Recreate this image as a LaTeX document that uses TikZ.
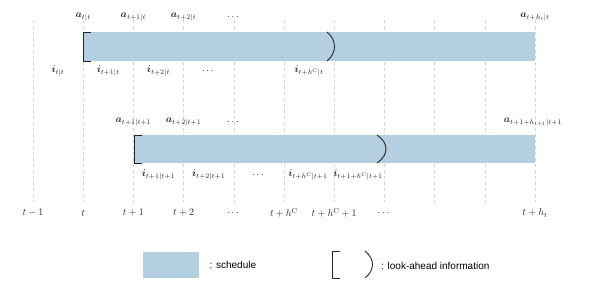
\documentclass[tikz,border=0pt]{standalone}
\usepackage{amsmath}
\usepackage{bm}
\usepackage{fontspec}
\newfontfamily\legendfont{Liberation Sans}
\usetikzlibrary{positioning}
\definecolor{schedblue}{RGB}{179,207,224}
\newcommand{\hC}{h^{\mathrm{C}}}

\begin{document}
\begin{tikzpicture}[
        x=1pt, y=-1pt,
        gridline/.style={draw=gray!35, dashed, line width=0.6pt},
        sched/.style={fill=schedblue, draw=none, inner sep=0pt, anchor=north west},
        lab/.style={inner sep=1pt, text=black!85},
        brace/.style={line width=0.9pt, black!85}
    ]
        \useasboundingbox (0,0) rectangle (595,289);

        % time grid
        \foreach \k in {0,...,10}
            \draw[gridline] ({33+50.2*\k},20) -- ({33+50.2*\k},202);

        % time axis labels
        \node[lab] (tm1) at (33,213) {$t-1$};
        \node[lab] (t0) at (83.2,213) {$t$};
        \node[lab] (t1) at (133.4,213) {$t+1$};
        \node[lab] (t2) at (183.6,213) {$t+2$};
        \node[lab] (tdots) at (233.8,213) {$\cdots$};
        \node[lab] (thc) at (284,213) {$t+\hC$};
        \node[lab] (thc1) at (334.2,213) {$t+\hC+1$};
        \node[lab] (tdots2) at (384.4,213) {$\cdots$};
        \node[lab] (tht) at (535,213) {$t+h_t$};

        % schedule at t
        \node[sched, minimum width=452pt, minimum height=29pt] (bar1) at (83,32) {};
        \draw[brace] ([xshift=8pt]bar1.north west) -- (bar1.north west) -- (bar1.south west) -- ([xshift=8pt]bar1.south west);
        \draw[brace] (327,32) .. controls (337,40) and (337,53) .. (327,61);

        \node[lab] (a1) at (83.2,17) {$\bm{a}_{t|t}$};
        \node[lab] (a2) at (133.4,17) {$\bm{a}_{t+1|t}$};
        \node[lab] (a3) at (183.6,17) {$\bm{a}_{t+2|t}$};
        \node[lab] (adots) at (233.8,17) {$\cdots$};
        \node[lab] (aend) at (535,17) {$\bm{a}_{t+h_t|t}$};

        \node[lab] (i1) at (58,71) {$\bm{i}_{t|t}$};
        \node[lab] (i2) at (108.3,71) {$\bm{i}_{t+1|t}$};
        \node[lab] (i3) at (158.5,71) {$\bm{i}_{t+2|t}$};
        \node[lab] (idots) at (208.7,71) {$\cdots$};
        \node[lab] (ihc) at (309.1,71) {$\bm{i}_{t+\hC|t}$};

        % schedule at t+1
        \node[sched, minimum width=401pt, minimum height=28pt] (bar2) at (134,135) {};
        \draw[brace] ([xshift=8pt]bar2.north west) -- (bar2.north west) -- (bar2.south west) -- ([xshift=8pt]bar2.south west);
        \draw[brace] (377,135) .. controls (389,143) and (389,155) .. (377,163);

        \node[lab] (b1) at (133.4,122) {$\bm{a}_{t+1|t+1}$};
        \node[lab] (b2) at (183.6,122) {$\bm{a}_{t+2|t+1}$};
        \node[lab] (bdots) at (233.8,122) {$\cdots$};
        \node[lab] (bend) at (533,122) {$\bm{a}_{t+1+h_{t+1}|t+1}$};

        \node[lab] (j1) at (158.5,175) {$\bm{i}_{t+1|t+1}$};
        \node[lab] (j2) at (208.7,175) {$\bm{i}_{t+2|t+1}$};
        \node[lab] (jdots) at (258.9,175) {$\cdots$};
        \node[lab] (jhc) at (308,175) {$\bm{i}_{t+\hC|t+1}$};
        \node[lab] (jhc1) at (358,175) {$\bm{i}_{t+1+\hC|t+1}$};

        % legend
        \node[sched, minimum width=56pt, minimum height=26pt] (legsched) at (143,252) {};
        \node[right=10pt of legsched, inner sep=0pt, font=\legendfont] (legschedtxt) {: schedule};
        \coordinate (lbr) at (332,251);
        \draw[brace] ([xshift=8pt]lbr) -- (lbr) -- ++(0,27) -- ++(8,0);
        \draw[brace] (365,251) .. controls (375,259) and (375,270) .. (365,278) coordinate (rbr);
        \node[anchor=west, inner sep=0pt, font=\legendfont] (legbrtxt) at (381,266) {: look-ahead information};
    \end{tikzpicture}
\end{document}
